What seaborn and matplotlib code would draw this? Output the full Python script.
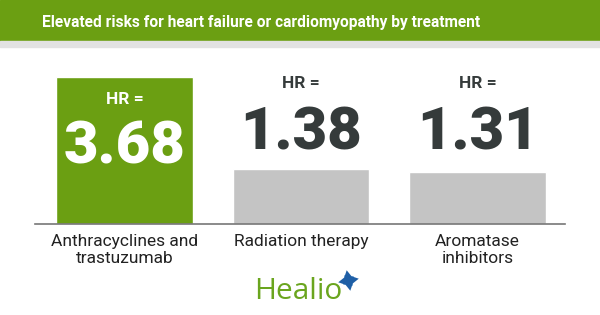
import matplotlib
matplotlib.use("Agg")
import matplotlib.pyplot as plt
import seaborn as sns
import pandas as pd
from matplotlib.patches import Rectangle
from matplotlib.lines import Line2D
from matplotlib.transforms import blended_transform_factory

categories = ["Anthracyclines and\ntrastuzumab", "Radiation therapy", "Aromatase\ninhibitors"]
hr_values = [3.68, 1.38, 1.31]
hr_labels = ["3.68", "1.38", "1.31"]
title = "Elevated risks for heart failure or cardiomyopathy by treatment"

GREEN = "#6b9f12"
GREY = "#c4c4c4"
DARK = "#353b3b"

sns.set_theme(style="white")
plt.rcParams["font.family"] = ["Roboto", "DejaVu Sans"]

W, H = 600, 315
fig = plt.figure(figsize=(6, 3.15), dpi=100)
fig.patch.set_facecolor("white")

# title bar
fig.patches.append(Rectangle((0, 1 - 41.5 / H), 1, 41.5 / H, transform=fig.transFigure,
                             color=GREEN, zorder=0))
fig.patches.append(Rectangle((0, 1 - 46.5 / H), 1, 5 / H, transform=fig.transFigure,
                             color="#e2e2e2", zorder=0))
fig.text(261 / W, 1 - 27 / H, title, ha="center", va="baseline", color="white",
         fontsize=11.2, fontweight="bold")

# axes: x 35..565 px, baseline y=224, top y=50
ax_left, ax_right, ax_bot, ax_top = 35, 565, 224, 50
ax = fig.add_axes([ax_left / W, 1 - ax_bot / H, (ax_right - ax_left) / W, (ax_bot - ax_top) / H])
df = pd.DataFrame({"cat": categories, "hr": hr_values})
sns.barplot(data=df, x="cat", y="hr", hue="cat", palette=[GREEN, GREY, GREY],
            width=0.776, legend=False, ax=ax, saturation=1)
spacing = 176.5
ax.set_xlim(-89.5 / spacing, (530 - 89.5) / spacing)
ax.set_ylim(0, 174 / 39.95)
for s in ["top", "right", "left"]:
    ax.spines[s].set_visible(False)
ax.spines["bottom"].set_color("#777777")
ax.spines["bottom"].set_linewidth(1.2)
ax.set_xlabel("")
ax.set_ylabel("")
ax.set_yticks([])
ax.tick_params(axis="x", length=0, pad=7)
ax.set_xticks(range(len(categories)))
ax.set_xticklabels(categories, fontsize=12.5, color="#222222", linespacing=1.2)

trans = blended_transform_factory(ax.transData, fig.transFigure)
for i, (v, lab) in enumerate(zip(hr_values, hr_labels)):
    if i == 0:
        col = "white"
        y_hr, y_num = 104, 163
    else:
        col = DARK
        y_hr, y_num = 88, 150
    ax.text(i, 1 - y_hr / H, "HR =", transform=trans, ha="center", va="baseline",
            color=col, fontsize=12.5, fontweight="bold")
    ax.text(i, 1 - y_num / H, lab, transform=trans, ha="center", va="baseline",
            color=col, fontsize=43, fontweight="black")

# logo
fig.text(254 / W, 1 - 299 / H, "Healio", ha="left", va="baseline", color="#6aa51e",
         fontsize=21.5, fontweight="normal", family=["Open Sans", "DejaVu Sans"])
fig.add_artist(Line2D([348 / W], [1 - 280 / H], transform=fig.transFigure,
                      marker=(4, 1, 40), markersize=10, color="#5fa0d8",
                      markeredgewidth=0, linestyle="none"))
fig.add_artist(Line2D([348 / W], [1 - 280 / H], transform=fig.transFigure,
                      marker=(4, 1, 10), markersize=15, color="#1f5fa6",
                      markeredgewidth=0, linestyle="none"))

fig.savefig("out.png", dpi=100, facecolor="white")
